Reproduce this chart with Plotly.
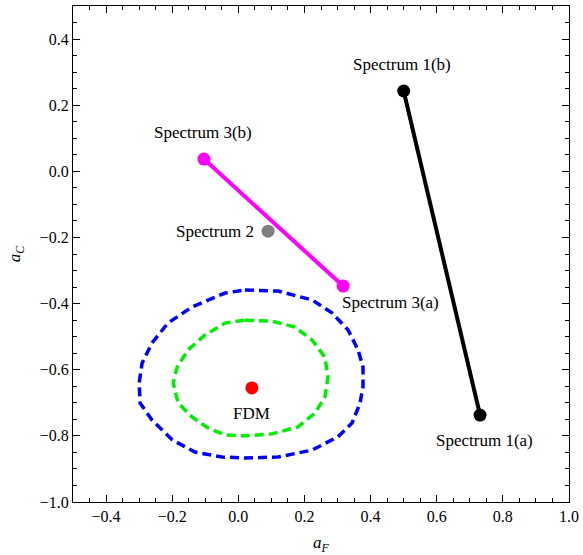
import plotly.graph_objects as go

# ---- data ----
spec1_x = [0.731, 0.500]
spec1_y = [-0.737, 0.243]
spec3_x = [0.317, -0.104]
spec3_y = [-0.347, 0.037]
spec2_x = [0.090]
spec2_y = [-0.181]
fdm_x = [0.041]
fdm_y = [-0.655]

blue_x = [0.020, 0.120, 0.223, 0.283, 0.332, 0.362, 0.377, 0.377, 0.368, 0.344, 0.301, 0.223, 0.120,
          0.020, -0.049, -0.131, -0.200, -0.261, -0.297, -0.300, -0.291, -0.261, -0.213, -0.140, -0.040, 0.020]
blue_y = [-0.359, -0.362, -0.389, -0.428, -0.480, -0.540, -0.592, -0.652, -0.701, -0.761, -0.803, -0.843, -0.864,
          -0.867, -0.864, -0.849, -0.812, -0.752, -0.701, -0.640, -0.580, -0.519, -0.459, -0.410, -0.368, -0.359]

green_x = [0.020, 0.102, 0.171, 0.223, 0.262, 0.271, 0.262, 0.232, 0.180, 0.102, 0.020, -0.040, -0.092,
           -0.140, -0.182, -0.197, -0.185, -0.152, -0.101, -0.040, 0.020]
green_y = [-0.450, -0.453, -0.471, -0.510, -0.562, -0.622, -0.682, -0.731, -0.773, -0.794, -0.800, -0.797, -0.776,
           -0.743, -0.701, -0.640, -0.592, -0.540, -0.495, -0.459, -0.450]

labels = ["Spectrum 1(a)", "Spectrum 1(b)", "Spectrum 3(a)", "Spectrum 3(b)", "Spectrum 2", "FDM"]
label_px = [spec1_x[0], spec1_x[1], spec3_x[0], spec3_x[1], spec2_x[0], fdm_x[0]]
label_py = [spec1_y[0], spec1_y[1], spec3_y[0], spec3_y[1], spec2_y[0], fdm_y[0]]
label_shift = [(4, -25), (-2, 26), (47, -16), (-1, 27), (-53, 0), (0, -26)]

x_ticks = [-0.4, -0.2, 0.0, 0.2, 0.4, 0.6, 0.8, 1.0]
y_ticks = [-1.0, -0.8, -0.6, -0.4, -0.2, 0.0, 0.2, 0.4]

SERIF = "Liberation Serif, Times New Roman, serif"

fig = go.Figure()
fig.add_trace(go.Scatter(x=blue_x, y=blue_y, mode="lines",
                         line=dict(color="#0000ff", width=3.5, dash="9px,5px")))
fig.add_trace(go.Scatter(x=green_x, y=green_y, mode="lines",
                         line=dict(color="#00ee00", width=3.5, dash="9px,5px")))
fig.add_trace(go.Scatter(x=spec1_x, y=spec1_y, mode="lines+markers",
                         line=dict(color="black", width=4),
                         marker=dict(color="black", size=13)))
fig.add_trace(go.Scatter(x=spec3_x, y=spec3_y, mode="lines+markers",
                         line=dict(color="#ff00ff", width=4),
                         marker=dict(color="#ff00ff", size=13)))
fig.add_trace(go.Scatter(x=spec2_x, y=spec2_y, mode="markers",
                         marker=dict(color="#808080", size=13)))
fig.add_trace(go.Scatter(x=fdm_x, y=fdm_y, mode="markers",
                         marker=dict(color="#ff0000", size=13)))

for t, px, py, (dx, dy) in zip(labels, label_px, label_py, label_shift):
    fig.add_annotation(x=px, y=py, text=t, showarrow=False, xshift=dx, yshift=dy,
                       font=dict(family=SERIF, size=17, color="black"))

axis_common = dict(
    showgrid=False, zeroline=False, showline=True, linecolor="black", linewidth=1,
    mirror="ticks", ticks="inside", ticklen=7, tickwidth=1, tickcolor="black",
    minor=dict(ticks="inside", ticklen=4, tickwidth=1, tickcolor="black", dtick=0.05),
    tickfont=dict(family=SERIF, size=16, color="black"),
    automargin=False,
)

fig.update_xaxes(range=[-0.5, 1.0], tickvals=x_ticks,
                 ticktext=[f"{v:.1f}".replace("-", "\u2212") for v in x_ticks],
                 title=dict(text="<i>a</i><sub><i>F</i></sub>",
                            font=dict(family=SERIF, size=17, color="black"), standoff=12),
                 **axis_common)
fig.update_yaxes(range=[-1.0, 0.5], tickvals=y_ticks,
                 ticktext=[f"{v:.1f}".replace("-", "\u2212") for v in y_ticks],
                 title=dict(text="<i>a</i><sub><i>C</i></sub>",
                            font=dict(family=SERIF, size=17, color="black"), standoff=14),
                 **axis_common)

fig.update_layout(width=583, height=555, showlegend=False,
                  margin=dict(l=73, r=14, t=6, b=53, autoexpand=False),
                  plot_bgcolor="white", paper_bgcolor="white")

fig.write_html("out.html", config={"displayModeBar": False},
               post_script="document.body.style.margin='0';")
